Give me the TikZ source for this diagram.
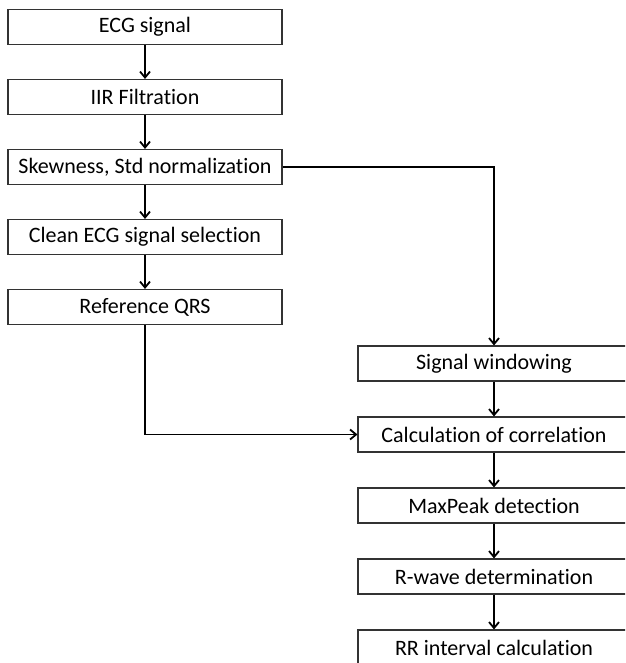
\documentclass[tikz,border=0pt]{standalone}
\usepackage{fontspec}
\setmainfont{Carlito}[Ligatures=CommonOff]
\usetikzlibrary{positioning,arrows.meta}
\begin{document}
\begin{tikzpicture}[x=1pt,y=1pt,node distance=70pt,>={Straight Barb[length=6pt,width=10pt]},line width=1.8pt]
\tikzstyle{stage}=[rectangle,draw=black!80,line width=1.1pt,minimum width=274pt,minimum height=35pt,inner sep=0pt,font=\fontsize{22}{25}\selectfont]
\tikzstyle{rstage}=[stage,minimum width=272pt]

\useasboundingbox (0,0) rectangle (625,-663);
\clip (0,0) rectangle (625,-663);

% main chain
\node[stage] (ecg) at (145,-27) {ECG signal};
\node[stage,below of=ecg] (iir) {IIR Filtration};
\node[stage,below of=iir] (skew) {Skewness, Std normalization};
\node[stage,below of=skew] (clean) {Clean ECG signal selection};
\node[stage,below of=clean] (qrs) {Reference QRS};

\draw[->] (ecg) -- (iir);
\draw[->] (iir) -- (skew);
\draw[->] (skew) -- (clean);
\draw[->] (clean) -- (qrs);

% detection chain
\node[rstage] (window) at (494,-363.5) {Signal windowing};
\node[rstage,below of=window,yshift=-1pt] (corr) {Calculation of correlation};
\node[rstage,below of=corr,yshift=-1pt] (peak) {MaxPeak detection};
\node[rstage,below of=peak,yshift=-1pt] (rwave) {R-wave determination};
\node[rstage,below of=rwave,yshift=-1pt] (rr) {RR interval calculation};

\draw[->] (skew.east) -| (window.north);
\draw[->] (qrs.south) |- (corr.west);
\draw[->] (window) -- (corr);
\draw[->] (corr) -- (peak);
\draw[->] (peak) -- (rwave);
\draw[->] (rwave) -- (rr);
\end{tikzpicture}
\end{document}
